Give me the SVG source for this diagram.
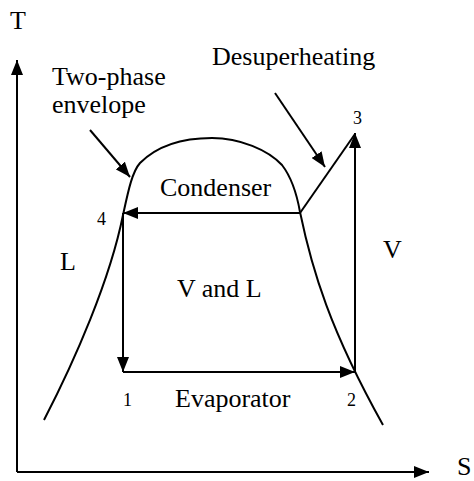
<svg xmlns="http://www.w3.org/2000/svg" width="474" height="481" viewBox="0 0 474 481">
<style>
.ln{stroke:#000;stroke-width:2;fill:none}
text{font-family:'Liberation Serif','Times New Roman','DejaVu Serif',serif;fill:#000}
.t{font-size:26px}
.n{font-size:18px}
</style>
<defs>
<marker id="ah" markerUnits="userSpaceOnUse" markerWidth="15" markerHeight="12" refX="15" refY="6" orient="auto">
<path d="M0,0 L15,6 L0,12 z" fill="#000"/>
</marker>
</defs>
<rect width="474" height="481" fill="#fff"/>
<g id="axes">
<path class="ln" d="M17 472 L17 60" marker-end="url(#ah)"/>
<path class="ln" d="M17 472 L429 472" marker-end="url(#ah)"/>
<text class="t" x="10" y="29">T</text>
<text class="t" x="457" y="475">S</text>
</g>
<g id="envelope">
<path class="ln" d="M44 420 C75 360,110 280,123 215 C128 192,132 172,140 163 C158 145,185 138,212 138 C240 138,268 150,282 165 C292 178,297 195,300 212 C312 270,330 330,383 425"/>
</g>
<g id="connectors">
<path class="ln" d="M300 213 L123 213" marker-end="url(#ah)"/>
<path class="ln" d="M123 213 L123 372" marker-end="url(#ah)"/>
<path class="ln" d="M123 372 L355 372" marker-end="url(#ah)"/>
<path class="ln" d="M355 372 L355 133" marker-end="url(#ah)"/>
<path class="ln" d="M300 213 L355 134"/>
<path class="ln" d="M90 130 L130 177" marker-end="url(#ah)"/>
<path class="ln" d="M275 93 L325 167" marker-end="url(#ah)"/>
</g>
<g id="labels">
<text class="t" x="52" y="85">Two-phase</text>
<text class="t" x="52" y="113">envelope</text>
<text class="t" x="212" y="65">Desuperheating</text>
<text class="t" x="160" y="196">Condenser</text>
<text class="t" x="177" y="297">V and L</text>
<text class="t" x="175" y="407">Evaporator</text>
<text class="t" x="60" y="270">L</text>
<text class="t" x="383" y="258">V</text>
</g>
<g id="points">
<text class="n" x="123" y="406">1</text>
<text class="n" x="347" y="406">2</text>
<text class="n" x="353" y="124">3</text>
<text class="n" x="97" y="225">4</text>
</g>
</svg>
